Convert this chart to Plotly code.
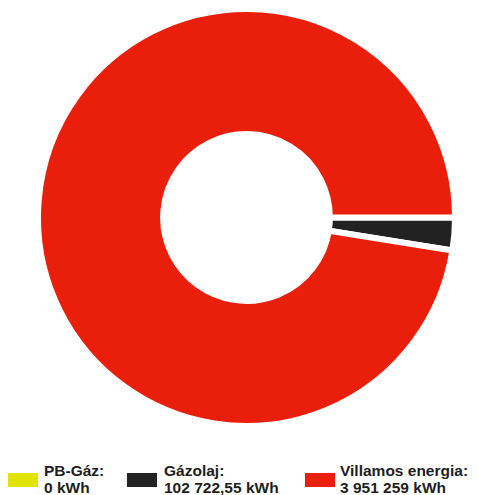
import plotly.graph_objects as go

# Energy use by source (kWh)
labels = ["PB-Gáz", "Gázolaj", "Villamos energia"]
values = [0, 102722.55, 3951259]
colors = ["#e3e300", "#222222", "#e91e0b"]

# the page body adds an 8px margin, so the figure is drawn 8px in
OFF = 8
W, H = 478 - OFF, 495 - OFF


def fmt_hu(v):
    # Hungarian style: space as thousands separator, comma for decimals
    if float(v).is_integer():
        s = f"{int(v):,}".replace(",", " ")
    else:
        s = f"{v:,.2f}".replace(",", " ").replace(".", ",")
    return s + " kWh"


def px_x(x):
    return (x - OFF) / W


def px_y(y):
    return 1 - (y - OFF) / H


fig = go.Figure(go.Pie(
    labels=labels,
    values=values,
    hole=0.4,
    sort=False,
    direction="clockwise",
    rotation=90,
    textinfo="none",
    marker=dict(colors=colors, line=dict(color="white", width=6)),
    domain=dict(x=[px_x(38), px_x(455)], y=[px_y(426), px_y(9)]),
    showlegend=False,
    hovertemplate="%{label}: %{value} kWh<extra></extra>",
))

# custom legend along the bottom
swatch_x = [8, 127, 305]
text_x = [43, 163, 339]
shapes = []
annotations = []
for i, lab in enumerate(labels):
    shapes.append(dict(
        type="rect", xref="paper", yref="paper",
        x0=px_x(swatch_x[i]), x1=px_x(swatch_x[i] + 30),
        y0=px_y(487), y1=px_y(473),
        fillcolor=colors[i], line=dict(width=0),
    ))
    for txt, yc in [(lab + ":", 470), (fmt_hu(values[i]), 487.5)]:
        annotations.append(dict(
            text="<b>" + txt + "</b>", xref="paper", yref="paper",
            x=px_x(text_x[i]), y=px_y(yc), xanchor="left", yanchor="middle",
            showarrow=False, borderpad=0,
            font=dict(family="Liberation Sans", size=15.5, color="#1e1e1e"),
        ))

fig.update_layout(
    width=W, height=H,
    margin=dict(l=0, r=0, t=0, b=0),
    paper_bgcolor="white",
    plot_bgcolor="white",
    shapes=shapes,
    annotations=annotations,
)

fig.write_html("out.html")
